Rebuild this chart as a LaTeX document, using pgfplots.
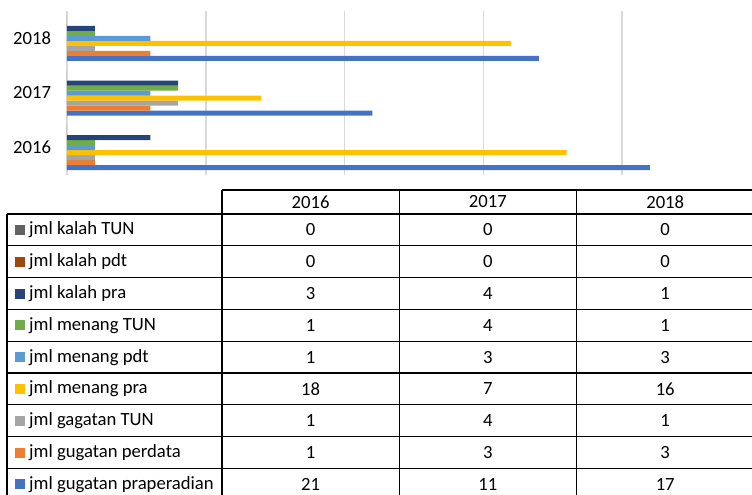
\documentclass[border=0pt]{standalone}
\usepackage{fontspec}
\setmainfont{Carlito}
\usepackage{pgfplots}
\usepackage{pgfplotstable}
\pgfplotsset{compat=1.18}

% Office palette
\definecolor{gpraC}{HTML}{4472C4}
\definecolor{gpdtC}{HTML}{ED7D31}
\definecolor{gtunC}{HTML}{A5A5A5}
\definecolor{mpraC}{HTML}{FFC000}
\definecolor{mpdtC}{HTML}{5B9BD5}
\definecolor{mtunC}{HTML}{70AD47}
\definecolor{kpraC}{HTML}{264478}
\definecolor{kpdtC}{HTML}{9E480E}
\definecolor{ktunC}{HTML}{636363}
\definecolor{gridC}{HTML}{D9D9D9}

\pgfplotstableread{
idx year gpra gpdt gtun mpra mpdt mtun kpra kpdt ktun
0 2016 21 1 1 18 1 1 3 0 0
1 2017 11 3 4 7 3 4 4 0 0
2 2018 17 3 1 16 3 1 1 0 0
}\data

\begin{document}
\begin{tikzpicture}[font=\fontsize{14}{16}\selectfont]
\useasboundingbox (0,0) rectangle (564pt,-371.25pt);
\clip (0,0) rectangle (564pt,-371.25pt);

\begin{axis}[
    at={(50.25pt,-131.25pt)}, anchor=south west,
    width=520.5pt, height=123pt, scale only axis,
    xmin=0, xmax=25, ymin=-0.5, ymax=2.5,
    xbar=0pt, bar width=3.75pt,
    xtick={0,5,...,25}, xticklabels={},
    ytick={0,1,2}, yticklabels={2016,2017,2018},
    yticklabel style={xshift=-8.5pt},
    /pgf/number format/assume math mode=true,
    xmajorgrids, grid style={line width=1.1pt, color=gridC},
    axis line style={draw=none}, major tick length=0pt,
]
\addplot[fill=gpraC, draw=none] table[x=gpra, y=idx] {\data};
\addplot[fill=gpdtC, draw=none] table[x=gpdt, y=idx] {\data};
\addplot[fill=gtunC, draw=none] table[x=gtun, y=idx] {\data};
\addplot[fill=mpraC, draw=none] table[x=mpra, y=idx] {\data};
\addplot[fill=mpdtC, draw=none] table[x=mpdt, y=idx] {\data};
\addplot[fill=mtunC, draw=none] table[x=mtun, y=idx] {\data};
\addplot[fill=kpraC, draw=none] table[x=kpra, y=idx] {\data};
\addplot[fill=kpdtC, draw=none] table[x=kpdt, y=idx] {\data};
\addplot[fill=ktunC, draw=none] table[x=ktun, y=idx] {\data};
\end{axis}

% data table below the chart, in image pixels
\begin{scope}[x=0.75pt, y=-0.75pt, line width=1pt]
  \draw (222,190) -- (760,190);
  \foreach \k in {0,...,9}
    \draw (7,214+31.8*\k) -- (760,214+31.8*\k);
  \draw (7,214) -- (7,510);
  \foreach \xv in {222,399.3,576.6,753.9}
    \draw (\xv,190) -- (\xv,510);
  \foreach \yr [count=\i from 0] in {2016,2017,2018}
    \node at (310.6+177.3*\i,202) {\yr};
  \foreach \col/\name/\clr [count=\r from 0] in {
      ktun/jml kalah TUN/ktunC, kpdt/jml kalah pdt/kpdtC,
      kpra/jml kalah pra/kpraC, mtun/jml menang TUN/mtunC,
      mpdt/jml menang pdt/mpdtC, mpra/jml menang pra/mpraC,
      gtun/jml gagatan TUN/gtunC, gpdt/jml gugatan perdata/gpdtC,
      gpra/jml gugatan praperadian/gpraC} {
    \pgfmathsetmacro\yc{230+31.8*\r}
    \fill[\clr] (15,\yc-5) rectangle (25,\yc+5);
    \node[anchor=west, inner sep=0pt] at (28.5,\yc) {\name};
    \foreach \i in {0,1,2} {
      \pgfplotstablegetelem{\i}{\col}\of\data
      \node at (310.6+177.3*\i,\yc) {\pgfplotsretval};
    }
  }
\end{scope}
\end{tikzpicture}
\end{document}
